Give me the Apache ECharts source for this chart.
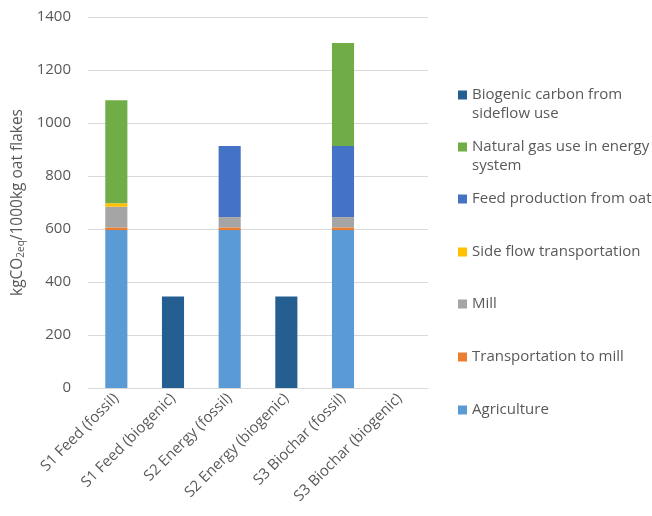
<!DOCTYPE html>
<html>
<head>
<meta charset="utf-8">
<script src="https://cdn.jsdelivr.net/npm/echarts@6/dist/echarts.min.js"></script>
<style>
  html, body { margin: 0; padding: 0; background: #fff; }
  #chart { width: 652px; height: 516px; }
</style>
</head>
<body>
<div id="chart"></div>
<script>
// categories on the x axis
const categories = ['S1 Feed (fossil)', 'S1 Feed (biogenic)', 'S2 Energy (fossil)', 'S2 Energy (biogenic)', 'S3 Biochar (fossil)', 'S3 Biochar (biogenic)']

// stacked contributions, kgCO2eq per 1000 kg oat flakes
const agriculture = [596, null, 596, null, 596, null]
const transportToMill = [10, null, 10, null, 10, null]
const mill = [78, null, 39, null, 39, null]
const sideFlowTransport = [13, null, null, null, null, null]
const feedProduction = [null, null, 268, null, 268, null]
const naturalGas = [389, null, null, null, 389, null]
const biogenicCarbon = [null, 345, null, 345, null, null]

const seriesNames = [
  'Agriculture',
  'Transportation to mill',
  'Mill',
  'Side flow transportation',
  'Feed production from oat',
  'Natural gas use in energy\nsystem',
  'Biogenic carbon from\nsideflow use'
]
const seriesData = [agriculture, transportToMill, mill, sideFlowTransport, feedProduction, naturalGas, biogenicCarbon]
const colors = ['#5B9BD5', '#ED7D31', '#A5A5A5', '#FFC000', '#4472C4', '#70AD47', '#255E91']

const font = '"Open Sans", Lato, sans-serif'
const textColor = '#595959'
const lineH = 19

// one legend per item so the rows keep Excel's even spacing
const legendCenters = [410, 357, 304, 252, 199, 147, 95]
const legends = seriesNames.map((name, i) => {
  const twoLines = name.indexOf('\n') >= 0
  return {
    data: [name],
    left: 458,
    top: legendCenters[i] - (twoLines ? 1.5 * lineH : lineH / 2),
    padding: 0,
    itemWidth: 9,
    itemHeight: 9,
    itemGap: 5,
    icon: 'rect',
    selectedMode: false,
    // blank first line keeps the icon level with the first text line
    formatter: n => (n.indexOf('\n') >= 0 ? ' \n' + n : n),
    textStyle: {
      fontFamily: font,
      fontSize: 15,
      color: textColor,
      lineHeight: lineH
    }
  }
})

const chart = echarts.init(document.getElementById('chart'))
chart.setOption({
  animation: false,
  textStyle: { fontFamily: font },
  grid: {
    left: 88,
    right: 224,
    top: 17,
    bottom: 128
  },
  legend: legends,
  xAxis: {
    type: 'category',
    data: categories,
    axisLine: { lineStyle: { color: '#D9D9D9', width: 1 } },
    axisTick: { show: false },
    axisLabel: {
      interval: 0,
      rotate: 45,
      margin: 8,
      fontFamily: font,
      fontSize: 15,
      color: textColor
    }
  },
  yAxis: {
    type: 'value',
    min: 0,
    max: 1400,
    interval: 200,
    name: 'kgCO{sub|2eq}/1000kg oat flakes',
    nameLocation: 'middle',
    nameRotate: 90,
    nameGap: 56,
    nameTextStyle: {
      fontFamily: font,
      fontSize: 15.5,
      color: textColor,
      rich: {
        sub: { fontFamily: font, fontSize: 10, color: textColor, padding: [7, 0, 0, 0] }
      }
    },
    axisLine: { show: false },
    axisTick: { show: false },
    axisLabel: {
      margin: 17,
      fontFamily: font,
      fontSize: 15,
      color: textColor,
      formatter: v => String(v)
    },
    splitLine: { lineStyle: { color: '#D9D9D9', width: 1 } }
  },
  series: seriesNames.map((name, i) => ({
    name: name,
    type: 'bar',
    stack: 'total',
    barWidth: '39%',
    itemStyle: { color: colors[i] },
    data: seriesData[i]
  }))
})
</script>
</body>
</html>
